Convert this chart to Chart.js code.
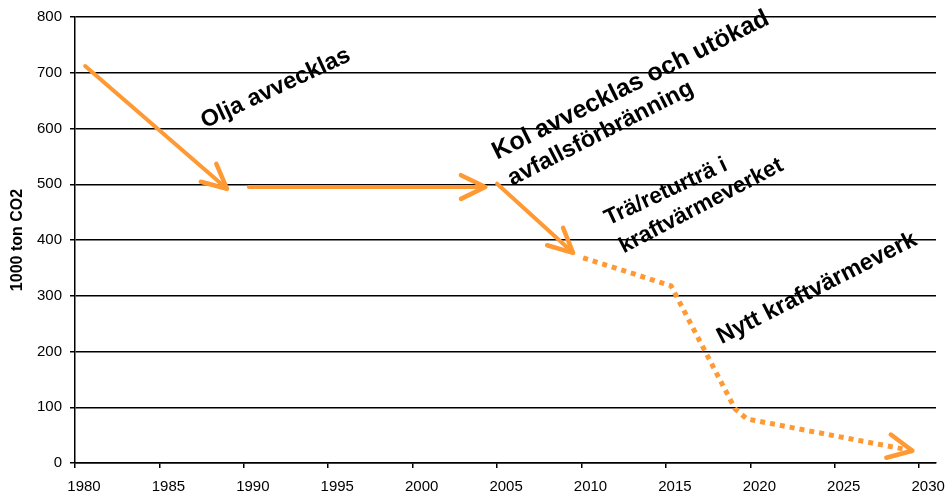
<!DOCTYPE html>
<html>
<head>
<meta charset="utf-8">
<script src="https://cdn.jsdelivr.net/npm/chart.js@4/dist/chart.umd.min.js"></script>
<style>
html,body{margin:0;padding:0;background:#fff;}
#wrap{width:946px;height:497px;}
</style>
</head>
<body>
<div id="wrap"><canvas id="c" width="946" height="497"></canvas></div>
<script>
// ---- data ----
const yearTicks = [1980, 1985, 1990, 1995, 2000, 2005, 2010, 2015, 2020, 2025, 2030];
const valueTicks = [0, 100, 200, 300, 400, 500, 600, 700, 800];

const oilYears = [1980.6, 1989.0];
const oilValues = [712, 492];

const plateauYears = [1990.3, 2004.3];
const plateauValues = [495, 495];

const coalYears = [2005.0, 2009.5];
const coalValues = [501, 377];

const forecastYears = [2010.1, 2015.3, 2019.1, 2019.8, 2029.6];
const forecastValues = [368, 318, 97, 79, 22];

const noteLines = ["Olja avvecklas", "Kol avvecklas och utökad", "avfallsförbränning", "Trä/returträ i", "kraftvärmeverket", "Nytt kraftvärmeverk"];
const noteYears = [1987.7, 2005.0, 2005.9, 2011.6, 2012.5, 2018.3];
const noteValues = [600, 544, 497, 426, 376, 213];

const yTitle = "1000 ton CO2";

// ---- styles ----
const ORANGE = '#FF9933';
const noteFontSizes = [23.5, 25, 23.5, 22.5, 22.5, 23.5];
const noteAngles = [25, 26.5, 27, 25, 27.5, 27];

const pts = (xs, ys) => xs.map((x, i) => ({x: x, y: ys[i]}));

const solid = {borderColor: ORANGE, borderWidth: 4, pointRadius: 0, borderCapStyle: 'round', borderJoinStyle: 'round', tension: 0, fill: false};

const arrowPlugin = {
  id: 'arrows',
  afterDatasetsDraw(chart) {
    const ctx = chart.ctx;
    chart.data.datasets.forEach((ds, i) => {
      if (!ds.arrow) return;
      const meta = chart.getDatasetMeta(i);
      const n = meta.data.length;
      const p1 = meta.data[n - 2], p2 = meta.data[n - 1];
      const ang = Math.atan2(p2.y - p1.y, p2.x - p1.x);
      const L = 27, spread = 26 * Math.PI / 180;
      ctx.save();
      ctx.strokeStyle = ORANGE;
      ctx.lineWidth = 4.5;
      ctx.lineCap = 'round';
      ctx.lineJoin = 'round';
      ctx.setLineDash([]);
      ctx.beginPath();
      ctx.moveTo(p2.x - L * Math.cos(ang - spread), p2.y - L * Math.sin(ang - spread));
      ctx.lineTo(p2.x, p2.y);
      ctx.lineTo(p2.x - L * Math.cos(ang + spread), p2.y - L * Math.sin(ang + spread));
      ctx.stroke();
      ctx.restore();
    });
  }
};

const notePlugin = {
  id: 'notes',
  afterDraw(chart) {
    const ctx = chart.ctx;
    const xs = chart.scales.x, ys = chart.scales.y;
    ctx.save();
    ctx.fillStyle = '#000';
    ctx.textAlign = 'left';
    ctx.textBaseline = 'alphabetic';
    noteLines.forEach((t, i) => {
      const px = xs.getPixelForValue(noteYears[i]);
      const py = ys.getPixelForValue(noteValues[i]);
      ctx.save();
      ctx.font = 'bold ' + noteFontSizes[i] + 'px "Liberation Sans", Arial, sans-serif';
      ctx.translate(px, py);
      ctx.rotate(-noteAngles[i] * Math.PI / 180);
      ctx.fillText(t, 0, 0);
      ctx.restore();
    });
    ctx.restore();
  }
};

new Chart(document.getElementById('c'), {
  type: 'line',
  data: {
    datasets: [
      Object.assign({data: pts(oilYears, oilValues), arrow: true}, solid),
      Object.assign({data: pts(plateauYears, plateauValues), arrow: true}, solid),
      Object.assign({data: pts(coalYears, coalValues), arrow: true}, solid),
      Object.assign({data: pts(forecastYears, forecastValues), arrow: true}, solid, {borderWidth: 5, borderDash: [5, 5], borderCapStyle: 'butt', borderJoinStyle: 'miter'})
    ]
  },
  options: {
    responsive: false,
    animation: false,
    events: [],
    layout: {padding: {top: 16, right: 9, left: 0, bottom: 0}},
    plugins: {legend: {display: false}, tooltip: {enabled: false}},
    scales: {
      x: {
        type: 'linear',
        min: 1980,
        max: 2031,
        afterFit: s => { s.height = 34; },
        afterBuildTicks: s => { s.ticks = yearTicks.map(v => ({value: v})); },
        ticks: {
          color: '#000',
          font: {family: '"Liberation Sans", Arial, sans-serif', size: 15},
          padding: 10,
          labelOffset: 9,
          maxRotation: 0,
          autoSkip: false,
          callback: v => String(v)
        },
        grid: {drawOnChartArea: false, drawTicks: true, tickLength: 5, color: '#000', lineWidth: 1.5},
        border: {color: '#000', width: 1.5}
      },
      y: {
        min: 0,
        max: 800,
        afterFit: s => { s.width = 75; },
        afterBuildTicks: s => { s.ticks = valueTicks.map(v => ({value: v})); },
        ticks: {
          color: '#000',
          font: {family: '"Liberation Sans", Arial, sans-serif', size: 15},
          padding: 8,
          callback: v => String(v)
        },
        title: {
          display: true,
          text: yTitle,
          color: '#000',
          font: {family: '"Liberation Sans", Arial, sans-serif', size: 16, weight: 'bold'},
          padding: {top: 8, bottom: 0}
        },
        grid: {color: '#000', lineWidth: 1.5, tickLength: 5},
        border: {color: '#000', width: 1.5}
      }
    }
  },
  plugins: [arrowPlugin, notePlugin]
});
</script>
</body>
</html>
